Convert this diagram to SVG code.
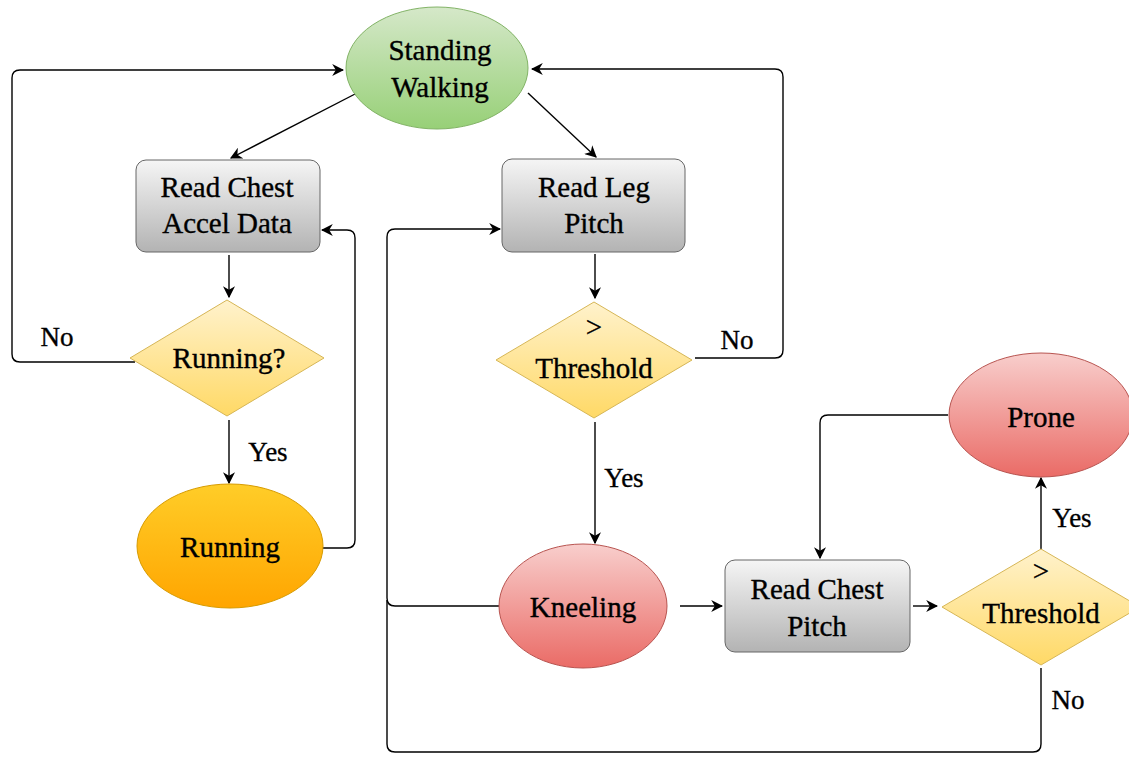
<svg xmlns="http://www.w3.org/2000/svg" width="1129" height="759" viewBox="0 0 1129 759" font-family="Liberation Serif, DejaVu Serif, serif">
<defs>
<linearGradient id="gGreen" x1="0" y1="0" x2="0" y2="1"><stop offset="0" stop-color="#d5e8c9"/><stop offset="1" stop-color="#97d077"/></linearGradient>
<linearGradient id="gGray" x1="0" y1="0" x2="0" y2="1"><stop offset="0" stop-color="#f5f5f5"/><stop offset="1" stop-color="#b3b3b3"/></linearGradient>
<linearGradient id="gYellow" x1="0" y1="0" x2="0" y2="1"><stop offset="0" stop-color="#fff2cc"/><stop offset="1" stop-color="#ffd966"/></linearGradient>
<linearGradient id="gOrange" x1="0" y1="0" x2="0" y2="1"><stop offset="0" stop-color="#ffcd28"/><stop offset="1" stop-color="#ffa500"/></linearGradient>
<linearGradient id="gRed" x1="0" y1="0" x2="0" y2="1"><stop offset="0" stop-color="#f8cecc"/><stop offset="1" stop-color="#ea6b66"/></linearGradient>
<marker id="arr" viewBox="0 0 10 10" refX="9" refY="5" markerWidth="12" markerHeight="12" markerUnits="userSpaceOnUse" orient="auto">
<path d="M0,0 L10,5 L0,10 L3,5 Z" fill="#000"/>
</marker>
</defs>
<style>
text{font-size:29px;fill:#000;stroke:#000;stroke-width:0.35;text-anchor:middle}
.lbl{font-size:27px}
.c{fill:none;stroke:#000;stroke-width:1.4}
</style>
<g id="connectors">
<path class="c" d="M357,93 L231,158" marker-end="url(#arr)"/>
<path class="c" d="M528,93 L596,157" marker-end="url(#arr)"/>
<path class="c" d="M229,255 L229,297" marker-end="url(#arr)"/>
<path class="c" d="M135,362 L20,362 Q12,362 12,354 L12,78 Q12,70 20,70 L343,70" marker-end="url(#arr)"/>
<path class="c" d="M229,420 L229,483" marker-end="url(#arr)"/>
<path class="c" d="M317,548 L347,548 Q355,548 355,540 L355,238 Q355,230 347,230 L322,230" marker-end="url(#arr)"/>
<path class="c" d="M595,254 L595,298" marker-end="url(#arr)"/>
<path class="c" d="M695,358 L775,358 Q783,358 783,350 L783,77 Q783,69 775,69 L532,69" marker-end="url(#arr)"/>
<path class="c" d="M595,422 L595,543" marker-end="url(#arr)"/>
<path class="c" d="M500,606 L395,606 Q387,606 387,598 L387,237 Q387,229 395,229 L500,229" marker-end="url(#arr)"/>
<path class="c" d="M1041,668 L1041,744 Q1041,752 1033,752 L395,752 Q387,752 387,744 L387,600"/>
<path class="c" d="M680,606 L722,606" marker-end="url(#arr)"/>
<path class="c" d="M913,606 L937,606" marker-end="url(#arr)"/>
<path class="c" d="M1041,550 L1041,478" marker-end="url(#arr)"/>
<path class="c" d="M948,415 L828,415 Q820,415 820,423 L820,558" marker-end="url(#arr)"/>
<text class="lbl" x="57" y="346">No</text>
<text class="lbl" x="268" y="461">Yes</text>
<text class="lbl" x="737" y="349">No</text>
<text class="lbl" x="624" y="487">Yes</text>
<text class="lbl" x="1072" y="527">Yes</text>
<text class="lbl" x="1068" y="709">No</text>
</g>
<g id="standing">
<ellipse cx="437" cy="68" rx="91" ry="61" fill="url(#gGreen)" stroke="#82b366" stroke-width="1"/>
<text x="440" y="60">Standing</text>
<text x="440" y="97">Walking</text>
</g>
<g id="readChestAccel">
<rect x="136" y="160" width="184" height="92" rx="10" fill="url(#gGray)" stroke="#666" stroke-width="1"/>
<text x="227" y="197">Read Chest</text>
<text x="227" y="233">Accel Data</text>
</g>
<g id="runningQ">
<path d="M227,300 L324,358 L227,416 L130,358 Z" fill="url(#gYellow)" stroke="#d6b656" stroke-width="1" stroke-linejoin="round"/>
<text x="229" y="368">Running?</text>
</g>
<g id="running">
<ellipse cx="230" cy="546" rx="93" ry="62" fill="url(#gOrange)" stroke="#d79b00" stroke-width="1"/>
<text x="230" y="557">Running</text>
</g>
<g id="readLegPitch">
<rect x="502" y="159" width="183" height="93" rx="10" fill="url(#gGray)" stroke="#666" stroke-width="1"/>
<text x="594" y="197">Read Leg</text>
<text x="594" y="233">Pitch</text>
</g>
<g id="threshold1">
<path d="M594,302 L692,360 L594,418 L496,360 Z" fill="url(#gYellow)" stroke="#d6b656" stroke-width="1" stroke-linejoin="round"/>
<text x="594" y="337">&gt;</text>
<text x="594" y="378">Threshold</text>
</g>
<g id="kneeling">
<ellipse cx="583" cy="606" rx="84" ry="62" fill="url(#gRed)" stroke="#b85450" stroke-width="1"/>
<text x="583" y="617">Kneeling</text>
</g>
<g id="readChestPitch">
<rect x="725" y="560" width="185" height="92" rx="10" fill="url(#gGray)" stroke="#666" stroke-width="1"/>
<text x="817" y="599">Read Chest</text>
<text x="817" y="636">Pitch</text>
</g>
<g id="threshold2">
<path d="M1041,549 L1140,607 L1041,665 L942,607 Z" fill="url(#gYellow)" stroke="#d6b656" stroke-width="1" stroke-linejoin="round"/>
<text x="1041" y="581">&gt;</text>
<text x="1041" y="623">Threshold</text>
</g>
<g id="prone">
<ellipse cx="1041" cy="415" rx="92" ry="62" fill="url(#gRed)" stroke="#b85450" stroke-width="1"/>
<text x="1041" y="427">Prone</text>
</g>
</svg>
